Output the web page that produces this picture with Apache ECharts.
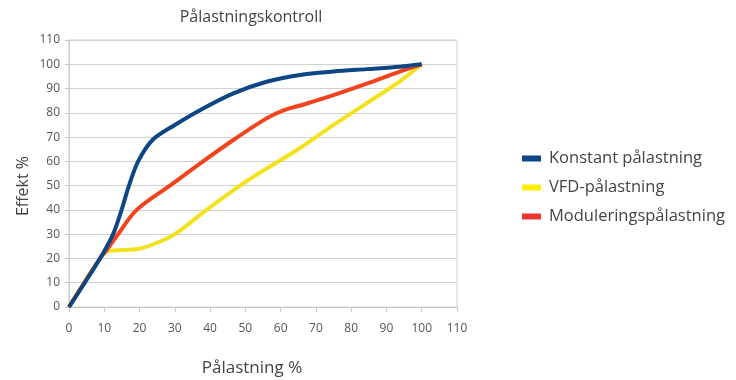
<!DOCTYPE html>
<html>
<head>
<meta charset="utf-8">
<script src="https://cdn.jsdelivr.net/npm/echarts@6/dist/echarts.min.js"></script>
<style>html,body{margin:0;padding:0;background:#fff}#c{width:736px;height:380px}</style>
</head>
<body>
<div id="c"></div>
<script>
var titleText = 'Pålastningskontroll';
var xName = 'Pålastning %';
var yName = 'Effekt %';
var seriesNames = ['Konstant pålastning', 'VFD-pålastning', 'Moduleringspålastning'];

var konstantX = [0, 8.8, 12.5, 14.9, 17, 19.6, 23.8, 30, 37, 46.6, 56, 65.5, 75, 84.4, 93.8, 100];
var konstantY = [0, 20, 30, 40, 50, 60, 69, 75, 81, 88, 92.8, 95.6, 97, 98, 99, 100];

var vfdX = [0, 8.8, 11, 15, 20, 25, 30, 39, 48.5, 56, 65, 75, 84.4, 93.8, 100];
var vfdY = [0, 20, 23, 23.5, 24, 26.5, 30, 40, 50, 57, 65, 75, 84, 93, 100];

var modX = [0, 8.8, 10.7, 13.9, 19.2, 28.6, 38, 46.6, 56, 60.8, 65.5, 75, 84.4, 93.8, 100];
var modY = [0, 20, 23.5, 30, 40, 50, 60, 68.8, 77.7, 81, 83, 87.3, 92, 97, 100];

function pairs(xs, ys) { return xs.map(function (x, i) { return [x, ys[i]]; }); }

var chart = echarts.init(document.getElementById('c'));
var font = 'Open Sans';
chart.setOption({
  animation: false,
  textStyle: { fontFamily: font },
  grid: { left: 69, right: 279, top: 40, bottom: 73, show: true, borderColor: '#d0d0d0', borderWidth: 1 },
  legend: {
    orient: 'vertical', left: 517, top: 145, itemWidth: 19, itemHeight: 6, itemGap: 12, icon: 'rect',
    data: seriesNames,
    textStyle: { fontFamily: font, fontSize: 16.5, color: '#444', padding: [0, 0, 0, 3] }
  },
  graphic: [
    { type: 'text', x: 251, y: 17, style: { text: titleText, x: 0, y: 0, textAlign: 'center', textVerticalAlign: 'middle',
      fontFamily: font, fontSize: 16, fill: '#444' } },
    { type: 'text', x: 252, y: 368, style: { text: xName, x: 0, y: 0, textAlign: 'center', textVerticalAlign: 'middle',
      fontFamily: font, fontSize: 17, fill: '#444' } },
    { type: 'text', x: 23, y: 186, rotation: Math.PI / 2, style: { text: yName, x: 0, y: 0, textAlign: 'center', textVerticalAlign: 'middle',
      fontFamily: font, fontSize: 16, fill: '#444' } }
  ],
  xAxis: {
    type: 'value', min: 0, max: 110, interval: 10,
    axisLine: { lineStyle: { color: '#c8c8c8' } },
    axisTick: { show: true, length: 5, lineStyle: { color: '#c8c8c8' } },
    axisLabel: { color: '#555', fontSize: 12, margin: 16 },
    splitLine: { show: false }
  },
  yAxis: {
    type: 'value', min: 0, max: 110, interval: 10,
    axisLine: { show: true, lineStyle: { color: '#c8c8c8' } },
    axisTick: { show: true, length: 4, lineStyle: { color: '#c8c8c8' } },
    axisLabel: { color: '#555', fontSize: 12, margin: 9 },
    splitLine: { show: true, lineStyle: { color: '#d0d0d0' } }
  },
  series: [
    { name: seriesNames[1], type: 'line', data: pairs(vfdX, vfdY), smooth: 0.35, showSymbol: false,
      lineStyle: { width: 4, color: '#f2e21e' }, itemStyle: { color: '#ffee00' }, z: 2 },
    { name: seriesNames[2], type: 'line', data: pairs(modX, modY), smooth: 0.35, showSymbol: false,
      lineStyle: { width: 4, color: '#f2421e' }, itemStyle: { color: '#ee3333' }, z: 3 },
    { name: seriesNames[0], type: 'line', data: pairs(konstantX, konstantY), smooth: 0.3, showSymbol: false,
      lineStyle: { width: 4, color: '#0d4585' }, itemStyle: { color: '#0d4585' }, z: 4 }
  ]
});
</script>
</body>
</html>
